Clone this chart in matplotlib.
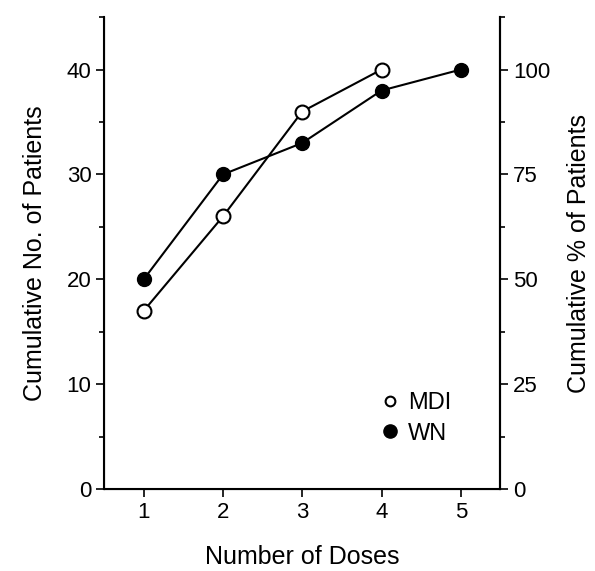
import matplotlib.pyplot as plt
from matplotlib.lines import Line2D
from matplotlib.ticker import MultipleLocator

plt.rcParams['font.family'] = ['Liberation Sans', 'DejaVu Sans']

# data
doses = [1, 2, 3, 4, 5]
mdi_doses = [1, 2, 3, 4]
mdi_counts = [17, 26, 36, 40]
wn_counts = [20, 30, 33, 38, 40]

fig = plt.figure(figsize=(5.95, 5.71), dpi=100)
ax = fig.add_axes([0.175, 0.1436, 0.666, 0.8264])

ax.plot(mdi_doses, mdi_counts, color='black', lw=1.5, marker='o', ms=10,
        mfc='white', mec='black', mew=1.5, zorder=3)
ax.plot(doses, wn_counts, color='black', lw=1.5, marker='o', ms=10,
        mfc='black', mec='black', zorder=3)

ax.set_xlim(0.5, 5.5)
ax.set_ylim(0, 45)
ax.set_xticks(doses)
ax.set_yticks([0, 10, 20, 30, 40])
ax.yaxis.set_minor_locator(MultipleLocator(5))
ax.spines['top'].set_visible(False)
for s in ['left', 'right', 'bottom']:
    ax.spines[s].set_linewidth(1.5)
ax.tick_params(axis='both', which='major', length=6, width=1.2, labelsize=16,
               direction='out', pad=3)
ax.tick_params(axis='y', which='minor', length=3.5, width=1.2)
ax.set_xlabel('Number of Doses', fontsize=18, labelpad=16)
ax.set_ylabel('Cumulative No. of Patients', fontsize=18, labelpad=14)

ax2 = ax.twinx()
ax2.set_ylim(0, 45 * 2.5)
ax2.set_yticks([0, 25, 50, 75, 100])
ax2.yaxis.set_minor_locator(MultipleLocator(12.5))
ax2.spines['top'].set_visible(False)
ax2.spines['right'].set_linewidth(1.5)
ax2.tick_params(axis='y', which='major', length=6, width=1.2, labelsize=16, pad=3)
ax2.tick_params(axis='y', which='minor', length=3.5, width=1.2)
ax2.set_ylabel('Cumulative % of Patients', fontsize=18, labelpad=12)

handles = [
    Line2D([], [], ls='none', marker='o', ms=7, mfc='white', mec='black', mew=1.5),
    Line2D([], [], ls='none', marker='o', ms=9.5, mfc='black', mec='black'),
]
ax.legend(handles, ['MDI', 'WN'], loc='upper left', bbox_to_anchor=(0.692, 0.205),
          frameon=False, fontsize=17, handletextpad=0.26, labelspacing=0.35,
          handlelength=1.0, borderpad=0, borderaxespad=0)

fig.savefig('out.png', dpi=100)
